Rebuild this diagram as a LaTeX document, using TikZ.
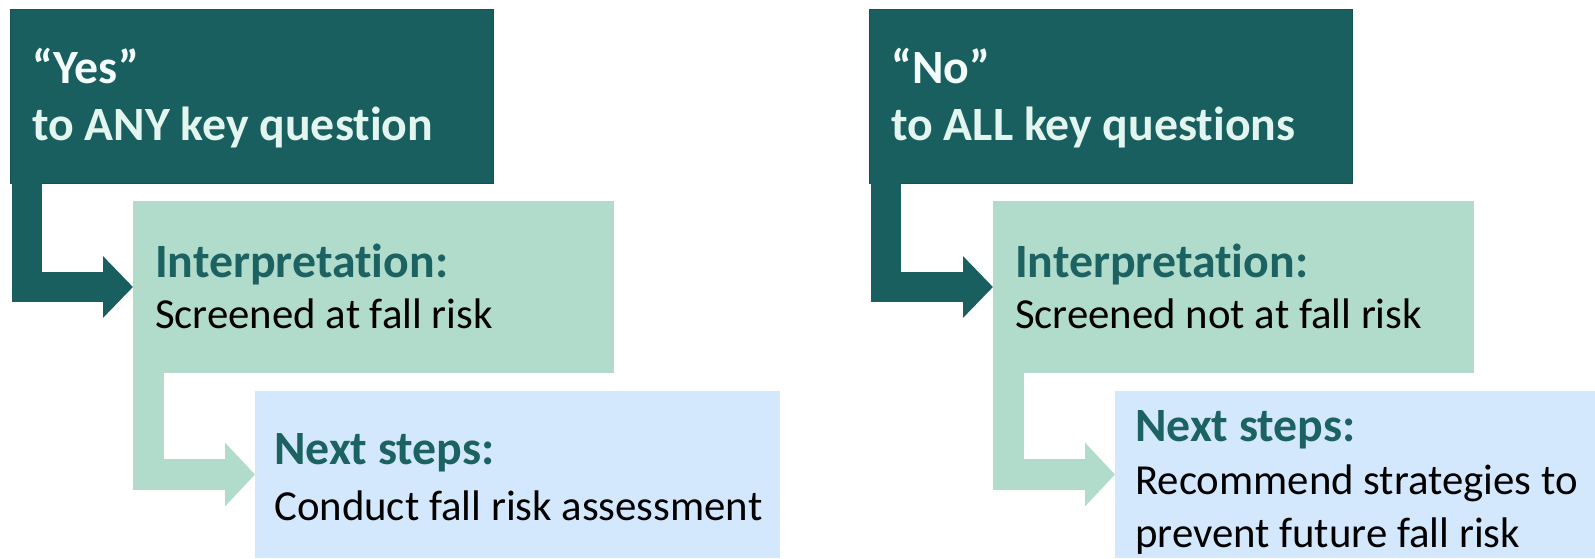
\documentclass[tikz,border=0pt]{standalone}
\usepackage{fontspec}
\setmainfont{Carlito}[RawFeature={-liga;-dlig;-clig}]
\usetikzlibrary{arrows.meta,calc}
\definecolor{darkteal}{HTML}{1A5F5F}
\definecolor{mint}{HTML}{B1DCCB}
\definecolor{paleblue}{HTML}{D3E8FC}
\definecolor{headteal}{HTML}{1D6262}
\definecolor{toptext}{HTML}{E2F5EF}
\definecolor{toptexthi}{HTML}{F3FCF9}
\tikzset{
  box/.style={rectangle, anchor=north west, inner sep=0pt, outer sep=0pt},
  topbox/.style={box, fill=darkteal, draw=darkteal!85!black, line width=0.8pt},
  midbox/.style={box, fill=mint},
  lowbox/.style={box, fill=paleblue},
  bighead/.style={anchor=base west, inner sep=0pt, font=\fontsize{47.8}{57}\selectfont\bfseries},
  head/.style={anchor=base west, inner sep=0pt, text=headteal, font=\fontsize{47.8}{57}\selectfont\bfseries},
  body/.style={anchor=base west, inner sep=0pt, text=black, font=\fontsize{42.8}{57}\selectfont},
  darkarrow/.style={draw=darkteal, line width=30pt, line join=miter, -{Triangle[length=30pt,width=60pt]}},
  lightarrow/.style={draw=mint, line width=31pt, line join=miter, -{Triangle[length=30pt,width=62pt]}},
}
\begin{document}
\begin{tikzpicture}[x=1pt,y=-1pt]
\useasboundingbox (0,0) rectangle (1595,558);
\begin{scope}
\clip (0,0) rectangle (1595,558);
% ---------- left column ----------
\node[topbox, minimum width=483pt, minimum height=174pt] (yesbox) at (10,9) {};
\node[midbox, minimum width=481pt, minimum height=172pt] (interpL) at (133,201) {};
\node[lowbox, minimum width=525pt, minimum height=167pt] (nextL) at (255,391) {};
\draw[darkarrow] ($(yesbox.south west)+(17,0)$) |- (interpL.west);
\draw[lightarrow] ($(interpL.south west)+(15.5,0)$) |- (nextL.west);
\node[bighead, text=toptexthi] (yesT) at (32,83) {“Yes”};
\node[bighead, text=toptext] (anyT) at (32,140) {to ANY key question};
\node[head] (interpLT) at (155,277) {Interpretation:};
\node[body] (interpLB) at (155,328) {Screened at fall risk};
\node[head] (nextLT) at (274,464) {Next steps:};
\node[body] (nextLB) at (274,520) {Conduct fall risk assessment};
% ---------- right column ----------
\node[topbox, minimum width=483pt, minimum height=174pt] (nobox) at (869,9) {};
\node[midbox, minimum width=481pt, minimum height=172pt] (interpR) at (993,201) {};
\node[lowbox, minimum width=525pt, minimum height=167pt] (nextR) at (1115,391) {};
\draw[darkarrow] ($(nobox.south west)+(17,0)$) |- (interpR.west);
\draw[lightarrow] ($(interpR.south west)+(15.5,0)$) |- (nextR.west);
\node[bighead, text=toptexthi] (noT) at (891,83) {“No”};
\node[bighead, text=toptext] (allT) at (891,140) {to ALL key questions};
\node[head] (interpRT) at (1015,277) {Interpretation:};
\node[body] (interpRB) at (1015,328) {Screened not at fall risk};
\node[head] (nextRT) at (1135,441) {Next steps:};
\node[body] (nextRB1) at (1135,494) {Recommend strategies to};
\node[body] (nextRB2) at (1135,547) {prevent future fall risk};
\end{scope}
\end{tikzpicture}
\end{document}
